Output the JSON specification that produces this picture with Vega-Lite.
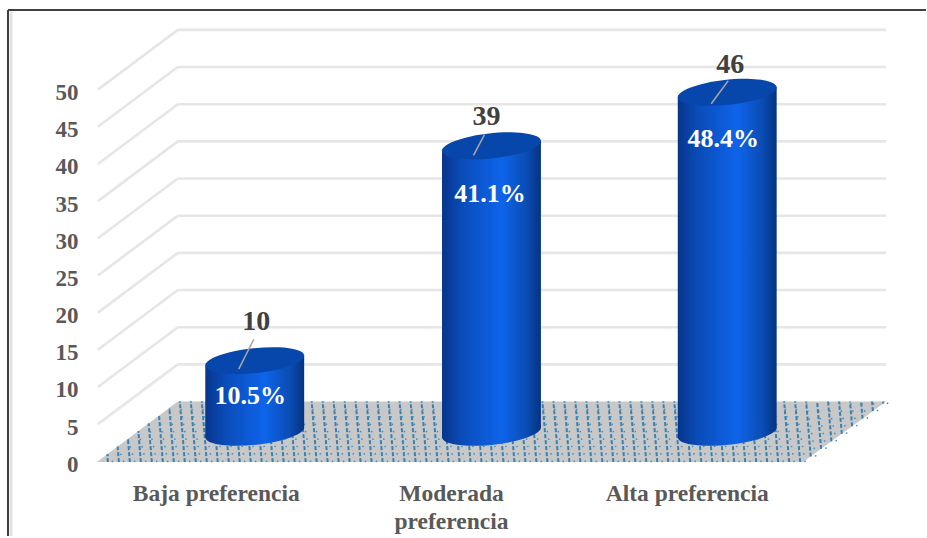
{
"$schema":"https://vega.github.io/schema/vega-lite/v6.json",
"autosize":{"type":"fit","contains":"padding"},
"width":927,"height":538,"padding":0,
"background":"white",
"view":{"stroke":null},
"config":{"font":"Liberation Serif"},
"resolve":{"axis":{"y":"independent"}},
"datasets":{"floor":[
{"a":108,"s":-0.1,"b":107.4,"t":0.95},{"a":119,"s":-0.1,"b":117.8,"t":1.99},{"a":130,"s":-0.1,"b":128.1,"t":3.02},{"a":141,"s":-0.1,"b":138.5,"t":4.07},{"a":152,"s":-0.1,"b":148.8,"t":5.1},{"a":163,"s":-0.1,"b":159.2,"t":6.15},{"a":174,"s":-0.1,"b":169.5,"t":7.19},
{"a":185,"s":-0.1,"b":180,"t":8.04},{"a":196,"s":-0.1,"b":191,"t":8.04},{"a":207,"s":-0.1,"b":202,"t":8.04},{"a":218,"s":-0.1,"b":213,"t":8.04},{"a":229,"s":-0.1,"b":224,"t":8.04},{"a":240,"s":-0.1,"b":235,"t":8.04},{"a":251,"s":-0.1,"b":246,"t":8.04},{"a":262,"s":-0.1,"b":257,"t":8.04},{"a":273,"s":-0.1,"b":268,"t":8.04},{"a":284,"s":-0.1,"b":279,"t":8.04},
{"a":295,"s":-0.1,"b":290,"t":8.04},{"a":306,"s":-0.1,"b":301,"t":8.04},{"a":317,"s":-0.1,"b":312,"t":8.04},{"a":328,"s":-0.1,"b":323,"t":8.04},{"a":339,"s":-0.1,"b":334,"t":8.04},{"a":350,"s":-0.1,"b":345,"t":8.04},{"a":361,"s":-0.1,"b":356,"t":8.04},{"a":372,"s":-0.1,"b":367,"t":8.04},{"a":383,"s":-0.1,"b":378,"t":8.04},{"a":394,"s":-0.1,"b":389,"t":8.04},
{"a":405,"s":-0.1,"b":400,"t":8.04},{"a":416,"s":-0.1,"b":411,"t":8.04},{"a":427,"s":-0.1,"b":422,"t":8.04},{"a":438,"s":-0.1,"b":433,"t":8.04},{"a":449,"s":-0.1,"b":444,"t":8.04},{"a":460,"s":-0.1,"b":455,"t":8.04},{"a":471,"s":-0.1,"b":466,"t":8.04},{"a":482,"s":-0.1,"b":477,"t":8.04},{"a":493,"s":-0.1,"b":488,"t":8.04},{"a":504,"s":-0.1,"b":499,"t":8.04},
{"a":515,"s":-0.1,"b":510,"t":8.04},{"a":526,"s":-0.1,"b":521,"t":8.04},{"a":537,"s":-0.1,"b":532,"t":8.04},{"a":548,"s":-0.1,"b":543,"t":8.04},{"a":559,"s":-0.1,"b":554,"t":8.04},{"a":570,"s":-0.1,"b":565,"t":8.04},{"a":581,"s":-0.1,"b":576,"t":8.04},{"a":592,"s":-0.1,"b":587,"t":8.04},{"a":603,"s":-0.1,"b":598,"t":8.04},{"a":614,"s":-0.1,"b":609,"t":8.04},
{"a":625,"s":-0.1,"b":620,"t":8.04},{"a":636,"s":-0.1,"b":631,"t":8.04},{"a":647,"s":-0.1,"b":642,"t":8.04},{"a":658,"s":-0.1,"b":653,"t":8.04},{"a":669,"s":-0.1,"b":664,"t":8.04},{"a":680,"s":-0.1,"b":675,"t":8.04},{"a":691,"s":-0.1,"b":686,"t":8.04},{"a":702,"s":-0.1,"b":697,"t":8.04},{"a":713,"s":-0.1,"b":708,"t":8.04},{"a":724,"s":-0.1,"b":719,"t":8.04},
{"a":735,"s":-0.1,"b":730,"t":8.04},{"a":746,"s":-0.1,"b":741,"t":8.04},{"a":757,"s":-0.1,"b":752,"t":8.04},{"a":768,"s":-0.1,"b":763,"t":8.04},{"a":779,"s":-0.1,"b":774,"t":8.04},{"a":790,"s":-0.1,"b":785,"t":8.04},{"a":801,"s":-0.1,"b":796,"t":8.04},
{"a":811.6,"s":0.64,"b":807,"t":8.04},{"a":822,"s":1.66,"b":818,"t":8.04},{"a":832.3,"s":2.68,"b":829,"t":8.04},{"a":842.7,"s":3.7,"b":840,"t":8.04},{"a":853,"s":4.71,"b":851,"t":8.04},{"a":863.5,"s":5.73,"b":862,"t":8.04},{"a":873.8,"s":6.75,"b":873,"t":8.04},{"a":884.2,"s":7.77,"b":884,"t":8.04}
]},
"layer":[
{"data":{"values":[
{"x":98,"v":50,"x2":178,"v2":58.04},{"x":178,"v":58.04,"x2":887,"v2":58.04},
{"x":98,"v":45,"x2":178,"v2":53.04},{"x":178,"v":53.04,"x2":887,"v2":53.04},
{"x":98,"v":40,"x2":178,"v2":48.04},{"x":178,"v":48.04,"x2":887,"v2":48.04},
{"x":98,"v":35,"x2":178,"v2":43.04},{"x":178,"v":43.04,"x2":887,"v2":43.04},
{"x":98,"v":30,"x2":178,"v2":38.04},{"x":178,"v":38.04,"x2":887,"v2":38.04},
{"x":98,"v":25,"x2":178,"v2":33.04},{"x":178,"v":33.04,"x2":887,"v2":33.04},
{"x":98,"v":20,"x2":178,"v2":28.04},{"x":178,"v":28.04,"x2":887,"v2":28.04},
{"x":98,"v":15,"x2":178,"v2":23.04},{"x":178,"v":23.04,"x2":887,"v2":23.04},
{"x":98,"v":10,"x2":178,"v2":18.04},{"x":178,"v":18.04,"x2":887,"v2":18.04},
{"x":98,"v":5,"x2":178,"v2":13.04},{"x":178,"v":13.04,"x2":887,"v2":13.04}
]},
"mark":{"type":"rule","color":"#e6e6e6","strokeWidth":2.6},
"encoding":{
"x":{"field":"x","type":"quantitative","scale":{"domain":[0,927],"nice":false,"zero":false},"axis":null},
"x2":{"field":"x2"},
"y":{"field":"v","type":"quantitative","scale":{"domain":[-10.05,62.06],"nice":false,"zero":false},
"axis":{"title":null,"orient":"left","offset":-78,"values":[0,5,10,15,20,25,30,35,40,45,50],"domain":false,"ticks":false,"grid":false,"labelPadding":0,"labelOffset":3,"labelFont":"Liberation Serif","labelFontWeight":"bold","labelFontSize":23,"labelColor":"#595959","labelOverlap":false}},
"y2":{"field":"v2"}}},
{"data":{"values":[{"x":8,"x2":8,"v":60.7,"v2":-10.05},{"x":8,"x2":927,"v":60.7,"v2":60.7}]},
"mark":{"type":"rule","color":"#404040","strokeWidth":2},
"encoding":{"x":{"field":"x","type":"quantitative","axis":null},"x2":{"field":"x2"},"y":{"field":"v","type":"quantitative","axis":null},"y2":{"field":"v2"}}},
{"data":{"values":[{"x":11,"x2":11,"v":60.5,"v2":-10.05}]},
"mark":{"type":"rule","color":"#e2e2e2","strokeWidth":3},
"encoding":{"x":{"field":"x","type":"quantitative","axis":null},"x2":{"field":"x2"},"y":{"field":"v","type":"quantitative","axis":null},"y2":{"field":"v2"}}},
{"data":{"values":[{"v":-0.1,"l":97,"r":804},{"v":8.04,"l":178,"r":887}]},
"mark":{"type":"area","orient":"horizontal","color":"#c8c8c8"},
"encoding":{"y":{"field":"v","type":"quantitative","axis":null},"x":{"field":"l","type":"quantitative","axis":null},"x2":{"field":"r"}}},
{"data":{"name":"floor"},
"mark":{"type":"rule","color":"#1f74ad","strokeWidth":2,"strokeDash":[4,2],"opacity":0.85},
"encoding":{"x":{"field":"a","type":"quantitative","axis":null},"x2":{"field":"b"},"y":{"field":"s","type":"quantitative","axis":null},"y2":{"field":"t"}}},
{"data":{"name":"floor"},
"mark":{"type":"rule","color":"#3f8fc4","strokeWidth":1.5,"strokeDash":[1.5,6],"xOffset":5},
"encoding":{"x":{"field":"a","type":"quantitative","axis":null},"x2":{"field":"b"},"y":{"field":"s","type":"quantitative","axis":null},"y2":{"field":"t"}}},
{"data":{"values":[
{"col":"Baja","px":205.5,"top":12.87,"base":3.23},{"col":"Baja","px":304.5,"top":14.21,"base":4.57},
{"col":"Moderada","px":442.5,"top":41.77,"base":3.23},{"col":"Moderada","px":541.5,"top":43.11,"base":4.57},
{"col":"Alta","px":678.5,"top":48.97,"base":3.23},{"col":"Alta","px":777.5,"top":50.31,"base":4.57}
]},
"mark":{"type":"area","fill":{"gradient":"linear","x1":0,"y1":0,"x2":1,"y2":0,"stops":[{"offset":0,"color":"#07358c"},{"offset":0.2,"color":"#0a4cb8"},{"offset":0.6,"color":"#0e64ea"},{"offset":0.85,"color":"#0a4db5"},{"offset":1,"color":"#06337f"}]}},
"encoding":{"x":{"field":"px","type":"quantitative","axis":null},"y":{"field":"top","type":"quantitative","axis":null},"y2":{"field":"base"},"detail":{"field":"col"}}},
{"data":{"values":[{"cx":255,"v":3.9},{"cx":492,"v":3.9},{"cx":728,"v":3.9}]},
"mark":{"type":"point","filled":true,"opacity":1,"size":9900,"shape":"M-0.9945,0.1045A1,0.25,-6,1,1,0.9945,-0.1045A1,0.25,-6,1,1,-0.9945,0.1045Z","fill":{"gradient":"linear","x1":0,"y1":0,"x2":1,"y2":0,"stops":[{"offset":0,"color":"#07358c"},{"offset":0.2,"color":"#0a4cb8"},{"offset":0.6,"color":"#0e64ea"},{"offset":0.85,"color":"#0a4db5"},{"offset":1,"color":"#06337f"}]}},
"encoding":{"x":{"field":"cx","type":"quantitative","axis":null},"y":{"field":"v","type":"quantitative","axis":null}}},
{"data":{"values":[{"cx":255,"v":13.54},{"cx":492,"v":42.44},{"cx":728,"v":49.64}]},
"mark":{"type":"point","filled":true,"opacity":1,"size":9900,"shape":"M-0.9945,0.1045A1,0.25,-6,1,1,0.9945,-0.1045A1,0.25,-6,1,1,-0.9945,0.1045Z","fill":"#0747ab"},
"encoding":{"x":{"field":"cx","type":"quantitative","axis":null},"y":{"field":"v","type":"quantitative","axis":null}}},
{"data":{"values":[{"x":254,"x2":239,"v":16.4,"v2":12.4},{"x":485,"x2":474,"v":43.96,"v2":41.15},{"x":729,"x2":712,"v":51.2,"v2":48.1}]},
"mark":{"type":"rule","color":"#a6a6a6","strokeWidth":1.5},
"encoding":{"x":{"field":"x","type":"quantitative","axis":null},"x2":{"field":"x2"},"y":{"field":"v","type":"quantitative","axis":null},"y2":{"field":"v2"}}},
{"data":{"values":[{"count":10,"lx":256.5,"lv":18.75},{"count":39,"lx":487,"lv":46.35},{"count":46,"lx":731,"lv":53.25}]},
"mark":{"type":"text","font":"Liberation Serif","fontWeight":"bold","fontSize":28,"color":"#404040","align":"center","baseline":"middle"},
"encoding":{"x":{"field":"lx","type":"quantitative","axis":null},"y":{"field":"lv","type":"quantitative","axis":null},"text":{"field":"count"}}},
{"data":{"values":[{"pct":"10.5%","lx":250.5,"lv":8.75},{"pct":"41.1%","lx":490.5,"lv":36},{"pct":"48.4%","lx":724,"lv":43.4}]},
"mark":{"type":"text","font":"Liberation Serif","fontWeight":"bold","fontSize":26,"color":"white","align":"center","baseline":"middle"},
"encoding":{"x":{"field":"lx","type":"quantitative","axis":null},"y":{"field":"lv","type":"quantitative","axis":null},"text":{"field":"pct"}}},
{"data":{"values":[{"cat":"Baja preferencia","lx":216.5,"lv":-2.75},{"cat":"Moderada\npreferencia","lx":452,"lv":-2.75},{"cat":"Alta preferencia","lx":688,"lv":-2.75}]},
"mark":{"type":"text","font":"Liberation Serif","fontWeight":"bold","fontSize":23.5,"color":"#595959","align":"center","baseline":"top","lineBreak":"\n","lineHeight":28},
"encoding":{"x":{"field":"lx","type":"quantitative","axis":null},"y":{"field":"lv","type":"quantitative","axis":null},"text":{"field":"cat"}}}
]
}
